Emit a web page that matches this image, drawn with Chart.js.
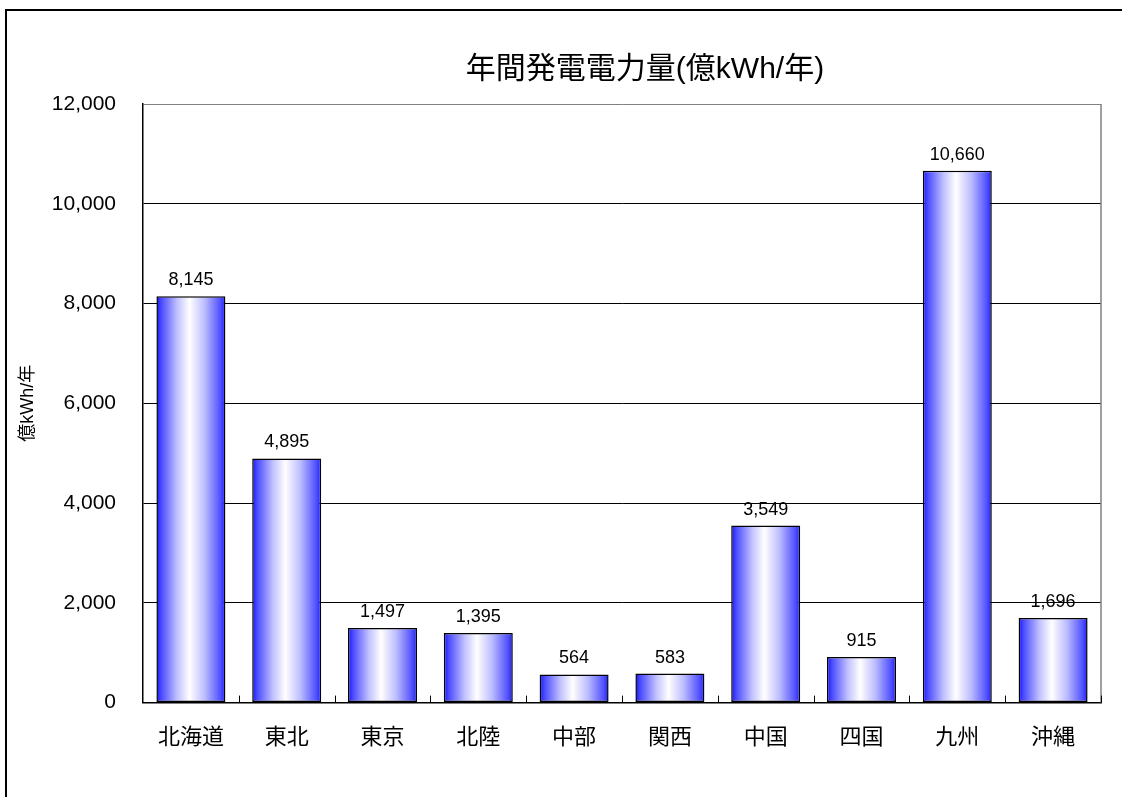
<!DOCTYPE html>
<html lang="ja">
<head>
<meta charset="utf-8">
<title>年間発電電力量</title>
<script src="https://cdn.jsdelivr.net/npm/chart.js@4/dist/chart.umd.min.js"></script>
<style>
    html, body { margin: 0; padding: 0; background: #fff; overflow: hidden; }
    #marco {
        position: absolute;
        left: 5px;
        top: 9px;
        width: 1276px;
        height: 830px;
        border-left: 2px solid #000;
        border-top: 2px solid #000;
    }
</style>
</head>
<body>
<div id="marco"><canvas id="graficoEnergia" width="1276" height="830"></canvas></div>
<script>
// Datos del gráfico
const regiones = ['北海道', '東北', '東京', '北陸', '中部', '関西', '中国', '四国', '九州', '沖縄'];
const generacion = [8145, 4895, 1497, 1395, 564, 583, 3549, 915, 10660, 1696];
const ticksY = [0, 2000, 4000, 6000, 8000, 10000, 12000];

const fuente = "'Liberation Sans', Arial, 'Noto Sans CJK JP', sans-serif";
const formato = v => v.toLocaleString('en-US');

// Degradado horizontal de cada barra (azul - blanco - azul)
const degradado = {
    id: 'degradado',
    beforeDatasetsDraw(chart) {
        const ctx = chart.ctx;
        chart.getDatasetMeta(0).data.forEach(el => {
            const { x, width } = el.getProps(['x', 'width'], true);
            const g = ctx.createLinearGradient(x - width / 2, 0, x + width / 2, 0);
            g.addColorStop(0, '#1414ff');
            g.addColorStop(0.07, '#4a4aff');
            g.addColorStop(0.3, '#c0c0ff');
            g.addColorStop(0.48, '#ffffff');
            g.addColorStop(0.7, '#bcbcff');
            g.addColorStop(0.93, '#5050ff');
            g.addColorStop(1, '#1e1eff');
            el.options.backgroundColor = g;
        });
    }
};

// Borde derecho gris y marcas entre categorías
const marcoArea = {
    id: 'marcoArea',
    beforeDatasetsDraw(chart) {
        const { ctx, chartArea } = chart;
        const x = chart.scales.x;
        ctx.save();
        ctx.strokeStyle = '#808080';
        ctx.lineWidth = 1.5;
        ctx.beginPath();
        ctx.moveTo(chartArea.right, chartArea.top);
        ctx.lineTo(chartArea.right, chartArea.bottom);
        ctx.stroke();
        ctx.strokeStyle = '#000';
        ctx.lineWidth = 1;
        ctx.beginPath();
        for (let i = 1; i <= regiones.length; i++) {
            const px = i < regiones.length
                ? (x.getPixelForValue(i - 1) + x.getPixelForValue(i)) / 2
                : chartArea.right;
            ctx.moveTo(Math.round(px) + 0.5, chartArea.bottom);
            ctx.lineTo(Math.round(px) + 0.5, chartArea.bottom - 7);
        }
        ctx.stroke();
        ctx.restore();
    }
};

// Etiquetas de valor sobre las barras
const etiquetas = {
    id: 'etiquetas',
    afterDatasetsDraw(chart) {
        const ctx = chart.ctx;
        ctx.save();
        ctx.font = '18px ' + fuente;
        ctx.fillStyle = '#000';
        ctx.textAlign = 'center';
        ctx.textBaseline = 'alphabetic';
        chart.getDatasetMeta(0).data.forEach((el, i) => {
            ctx.fillText(formato(generacion[i]), el.x, el.y - 11);
        });
        ctx.restore();
    }
};

const ctx = document.getElementById('graficoEnergia').getContext('2d');
new Chart(ctx, {
    type: 'bar',
    data: {
        labels: regiones,
        datasets: [{
            label: '年間発電電力量',
            data: generacion,
            backgroundColor: () => '#6060ff',
            borderColor: '#000',
            borderWidth: 1.5,
            borderSkipped: false,
            barPercentage: 0.72,
            categoryPercentage: 1
        }]
    },
    options: {
        responsive: false,
        animation: false,
        devicePixelRatio: 1,
        layout: { padding: { left: 0, right: 0, top: 0, bottom: 68 } },
        plugins: {
            legend: { display: false },
            tooltip: { enabled: false },
            title: {
                display: true,
                text: '年間発電電力量(億kWh/年)',
                color: '#000',
                font: { family: fuente, size: 30, weight: 'normal' },
                padding: { top: 41, bottom: 16 }
            }
        },
        scales: {
            x: {
                grid: { display: false, drawTicks: false },
                border: { display: true, color: '#000', width: 1.5 },
                ticks: {
                    color: '#000',
                    padding: 22,
                    font: { family: fuente, size: 22 }
                }
            },
            y: {
                min: 0,
                max: 12000,
                afterBuildTicks: scale => {
                    scale.ticks = ticksY.map(v => ({ value: v }));
                },
                afterFit: scale => { scale.width = 136; },
                grid: {
                    drawTicks: false,
                    color: c => (c.tick && c.tick.value === 12000 ? '#808080' : '#000'),
                    lineWidth: 1
                },
                border: { display: true, color: '#000', width: 1.5 },
                ticks: {
                    color: '#000',
                    padding: 27,
                    font: { family: fuente, size: 21 },
                    callback: v => formato(v)
                },
                title: {
                    display: true,
                    text: '億kWh/年',
                    color: '#000',
                    font: { family: fuente, size: 18 },
                    padding: { top: 10, bottom: 0 }
                }
            },
            // espacio vacío a la derecha del área de trazado
            derecha: {
                type: 'linear',
                position: 'right',
                grid: { display: false, drawTicks: false },
                border: { display: false },
                ticks: { display: false },
                afterFit: scale => { scale.width = 182; }
            }
        }
    },
    plugins: [degradado, marcoArea, etiquetas]
});
</script>
</body>
</html>
